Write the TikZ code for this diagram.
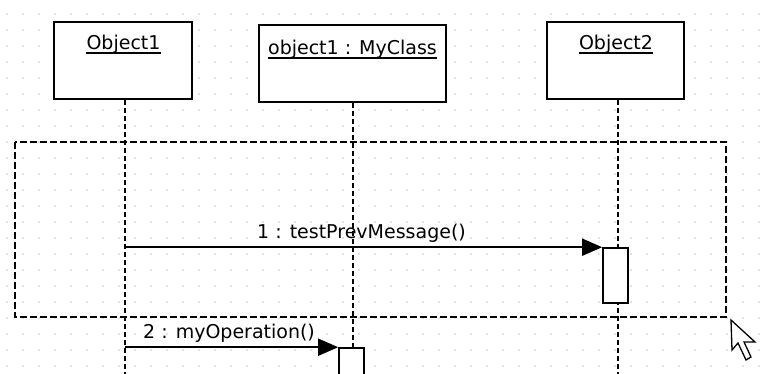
\documentclass[tikz,border=0pt]{standalone}
\usepackage{fontspec}
\setmainfont{DejaVu Sans}
\usetikzlibrary{arrows.meta}
\begin{document}
\begin{tikzpicture}[x=1pt, y=-1pt,
  every node/.style={font=\fontsize{19}{23}\selectfont},
  objbox/.style={draw, line width=2pt, fill=white, minimum height=77pt, inner sep=0pt},
  objname/.style={anchor=base, inner sep=0pt},
  actbox/.style={draw, line width=1.6pt, fill=white, minimum width=25pt, inner sep=0pt},
  lifeline/.style={line width=1.6pt, dash pattern=on 5pt off 3pt},
  msg/.style={line width=1.6pt, -{Triangle[length=20pt, width=17pt]}},
  msglabel/.style={anchor=base west, inner sep=0pt}]
\clip (0,0) rectangle (769,374);
\fill[white] (0,0) rectangle (769,374);
% grid dots
\foreach \gx in {7,23,...,759}
  \foreach \gy in {14,30,...,366}
    \fill[gray!45] (\gx,\gy) circle (0.9);
% combined fragment
\draw[line width=1.6pt, dash pattern=on 7pt off 3pt] (15,142) rectangle (726,317);
% lifelines
\coordinate (ll1) at (125,374);
\coordinate (ll2) at (353,374);
\coordinate (ll3) at (618,374);
% objects
\node[objbox, minimum width=138pt] (obj1) at (123,60.5) {};
\node[objbox, minimum width=187pt] (obj2) at (352.5,63.5) {};
\node[objbox, minimum width=137pt] (obj3) at (615.5,60.5) {};
\draw[lifeline] (obj1.south -| ll1) -- (ll1);
\draw[lifeline] (obj2.south -| ll2) -- (ll2);
\draw[lifeline] (obj3.south -| ll3) -- (ll3);
\node[objname] (name1) at (123.5,50) {Object1};
\node[objname] (name2) at (352.5,55) {object1 : MyClass};
\node[objname] (name3) at (616,50) {Object2};
\foreach \n in {name1,name2,name3}
  \draw[line width=1.4pt] ([yshift=-3pt]\n.base west) -- ([yshift=-3pt]\n.base east);
% activations
\node[actbox, minimum height=55pt] (act1) at (615.5,275.5) {};
\node[actbox, minimum height=60pt] (act2) at (351.5,378) {};
% messages
\draw[msg] (ll1 |- act1.north) -- (act1.north west);
\draw[msg] (ll1 |- act2.north) -- (act2.north west);
\node[msglabel] (lbl1) at (257,239) {1 : testPrevMessage()};
\node[msglabel] (lbl2) at (143,338) {2 : myOperation()};
% mouse pointer
\draw[fill=white, line width=1.3pt, line join=miter]
  (731,320) -- (732,350) -- (738,343) -- (746,360) -- (751,357) -- (744,342) -- (755,342) -- cycle;
\end{tikzpicture}
\end{document}
